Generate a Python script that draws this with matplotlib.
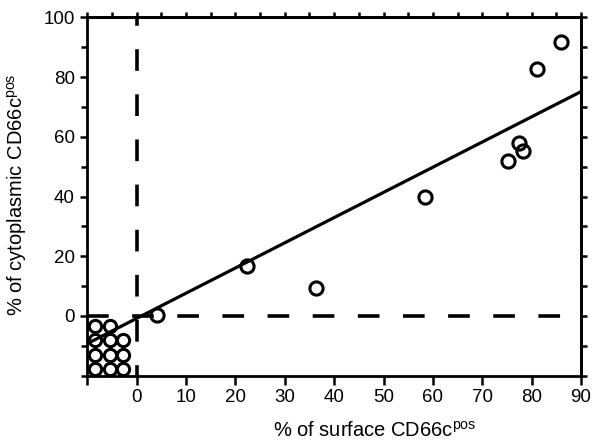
import numpy as np
import matplotlib
matplotlib.use("Agg")
from matplotlib import pyplot as plt
from matplotlib.ticker import MultipleLocator

plt.rcParams['font.family'] = ['Liberation Sans', 'DejaVu Sans']
plt.rcParams['mathtext.fontset'] = 'custom'
plt.rcParams['mathtext.rm'] = 'Liberation Sans'

# samples with measurable values
surface_x = [4.1, 22.4, 36.3, 58.5, 75.3, 77.5, 78.2, 81.0, 85.9]
cyto_y = [0.3, 16.7, 9.4, 39.8, 51.9, 57.8, 55.2, 82.9, 91.9]

# negative samples drawn as a stacked block in the corner
neg_x = [-8.4, -5.5,
         -8.4, -5.5, -2.7,
         -8.4, -5.5, -2.7,
         -8.4, -5.5, -2.7]
neg_y = [-3.2, -3.2,
         -8.2, -8.2, -8.2,
         -13.0, -13.0, -13.0,
         -17.8, -17.8, -17.8]

# regression line
fit_slope = 0.844
fit_intercept = -0.8

x_ticks = [-10, 0, 10, 20, 30, 40, 50, 60, 70, 80, 90]
x_labels = ['', '0', '10', '20', '30', '40', '50', '60', '70', '80', '90']
y_ticks = [0, 20, 40, 60, 80, 100]

fig = plt.figure(figsize=(6.03, 4.48), dpi=100)
ax = fig.add_axes([0.1448, 0.1614, 0.8187, 0.7996])

ax.set_xlim(-10, 90)
ax.set_ylim(-20, 100)

# zero lines
ax.axhline(0, color='black', lw=2.6, ls=(0, (6, 6.5)), zorder=1)
ax.axvline(0, color='black', lw=2.6, ls=(3, (6, 6.5)), zorder=1)

xl = np.array(ax.get_xlim())
ax.plot(xl, fit_intercept + fit_slope * xl, color='black', lw=2.3, zorder=2)

ax.plot(surface_x, cyto_y, 'o', ms=9.5, mfc='none', mec='black', mew=2.2, zorder=3)
ax.plot(neg_x, neg_y, 'o', ms=8.8, mfc='none', mec='black', mew=2.2, zorder=3,
        clip_on=False)

for s in ax.spines.values():
    s.set_linewidth(2.0)

ax.set_xticks(x_ticks)
ax.set_xticklabels(x_labels)
ax.set_yticks(y_ticks)
ax.yaxis.set_minor_locator(MultipleLocator(10))
ax.tick_params(axis='both', which='both', direction='out', width=1.8,
               labelsize=13.5, colors='black')
ax.tick_params(axis='x', which='major', length=6.5, pad=3)
ax.tick_params(axis='y', which='major', length=5, pad=4)
ax.tick_params(axis='y', which='minor', length=4)

# top edge ticks every 5, no labels
top = ax.secondary_xaxis('top')
top.set_xticks(np.arange(-10, 91, 5))
top.tick_params(direction='out', length=3.5, width=1.8, labeltop=False)
top.spines['top'].set_linewidth(2.0)

# right side ticks every 10, no labels
sec = ax.secondary_yaxis('right')
sec.set_yticks(np.arange(-20, 101, 10))
sec.tick_params(direction='out', length=4, width=1.8, labelright=False)
sec.spines['right'].set_linewidth(2.0)

ax.set_xlabel(r'% of surface CD66c$^{\mathrm{pos}}$', fontsize=14.5)
ax.set_ylabel(r'% of cytoplasmic CD66c$^{\mathrm{pos}}$', fontsize=14.5)
ax.xaxis.set_label_coords(0.583, -0.125)
ax.yaxis.set_label_coords(-0.118, 0.505)

fig.savefig("out.png", dpi=100)
